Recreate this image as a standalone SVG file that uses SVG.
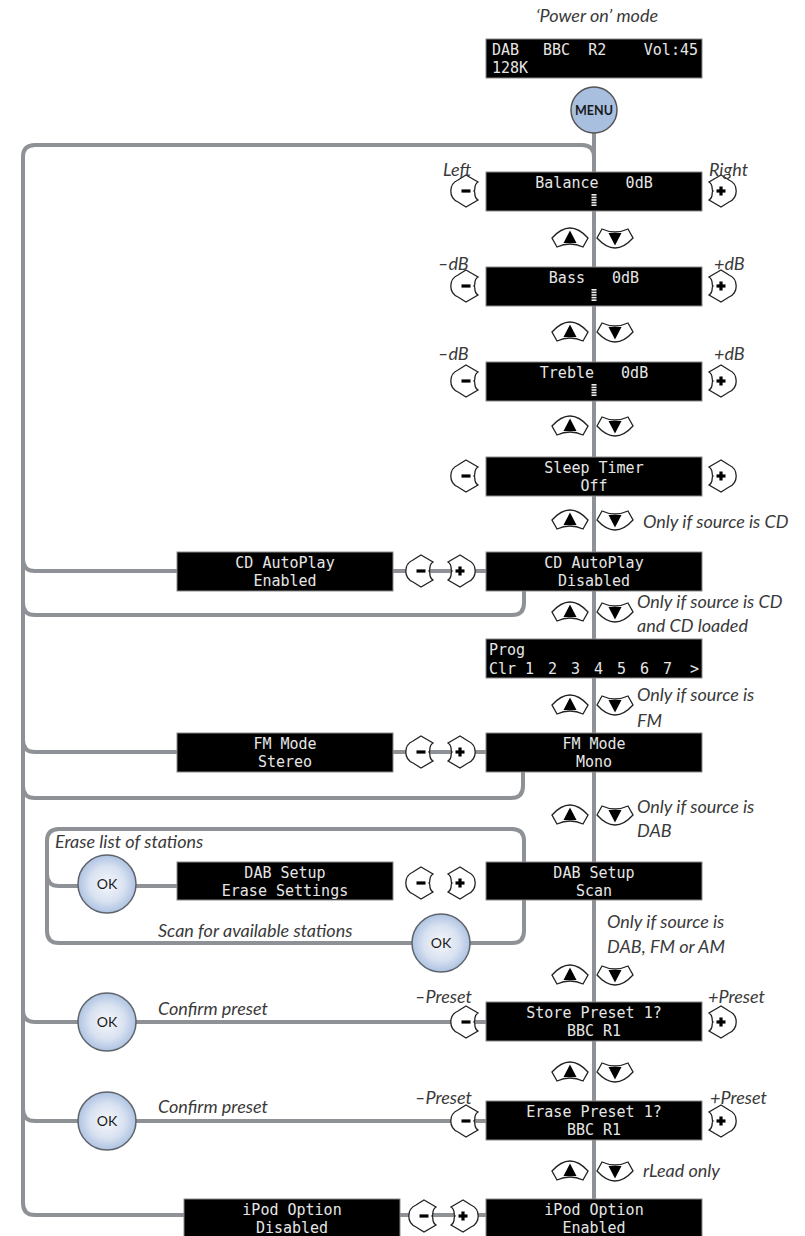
<svg xmlns="http://www.w3.org/2000/svg" width="805" height="1236" viewBox="0 0 805 1236" xml:space="preserve">
<style>
.ln{fill:none;stroke:#8e9196;stroke-width:4}
.lcd{fill:#000;stroke:#8a8a8a;stroke-width:1}
.lt{font-family:"DejaVu Sans Mono","Liberation Mono",monospace;font-size:15px;fill:#e6e6e6;white-space:pre}
.c{text-anchor:middle}
.lab{font-family:Lato,"Open Sans",sans-serif;font-style:italic;font-weight:400;font-size:18px;fill:#3a3a3a}
.btn{fill:#fff;stroke:#222;stroke-width:1.3}
.okc{fill:url(#okg);stroke:#5f646b;stroke-width:1.5}
.okt{font-family:Lato,"Open Sans",sans-serif;font-size:14px;fill:#1a1a1a;text-anchor:middle}
</style>
<defs>
<radialGradient id="okg" cx="0.5" cy="0.5" r="0.5">
<stop offset="0" stop-color="#f5f7fb"/>
<stop offset="0.6" stop-color="#d9e2f1"/>
<stop offset="1" stop-color="#aec3e2"/>
</radialGradient>
<g id="up"><path class="btn" d="M-18,0 Q0,-20 18,0 L13,9 Q0,3 -13,9 Z"/><path d="M0,-7.5 L6.5,5 L-6.5,5 Z" fill="#000"/></g>
<g id="dn"><path class="btn" d="M-18,0 L-13,-9 Q0,-3 13,-9 L18,0 Q0,20 -18,0 Z"/><path d="M0,7.5 L6.5,-5 L-6.5,-5 Z" fill="#000"/></g>
<g id="minus"><path class="btn" d="M0,-16 L12,-9 C7,-6 10,-1 8,0 C10,1 7,6 12,9 L0,16 L-8,11 A12,12 0 0 1 -8,-11 Z"/><rect x="-4.5" y="-1.6" width="9" height="3.2" fill="#000"/></g>
<g id="plus"><path class="btn" d="M0,-16 L-12,-9 C-7,-6 -10,-1 -8,0 C-10,1 -7,6 -12,9 L0,16 L8,11 A12,12 0 0 0 8,-11 Z"/><rect x="-4.5" y="-1.6" width="9" height="3.2" fill="#000"/><rect x="-1.6" y="-4.5" width="3.2" height="9" fill="#000"/></g>
<g id="bar"><rect x="-2.5" y="0" width="5" height="1.6" fill="#eee"/><rect x="-2.5" y="2.6" width="5" height="1.6" fill="#eee"/><rect x="-2.5" y="5.2" width="5" height="1.6" fill="#eee"/><rect x="-2.5" y="7.8" width="5" height="1.6" fill="#eee"/><rect x="-2.5" y="10.4" width="5" height="1.6" fill="#eee"/></g>
</defs>
<rect width="805" height="1236" fill="#fff"/>

<g id="connectors">
<path class="ln" d="M594,133 V1199"/>
<path class="ln" d="M594,157 Q594,145 582,145 H35 Q23,145 23,157 V1203 Q23,1215 35,1215 H184"/>
<path class="ln" d="M23,559 Q23,571 35,571 H177"/>
<path class="ln" d="M393,571 H486"/>
<path class="ln" d="M524,590 V603 Q524,615 512,615 H35 Q23,615 23,603"/>
<path class="ln" d="M23,740 Q23,752 35,752 H177"/>
<path class="ln" d="M393,752 H486"/>
<path class="ln" d="M523,772 V786 Q523,798 511,798 H35 Q23,798 23,786"/>
<path class="ln" d="M59,829 H512 Q524,829 524,841 V931 Q524,943 512,943 H59 Q47,943 47,931 V841 Q47,829 59,829 Z"/>
<path class="ln" d="M47,874 Q47,886 59,886 H177"/>
<path class="ln" d="M23,1010 Q23,1022 35,1022 H486"/>
<path class="ln" d="M23,1109 Q23,1121 35,1121 H486"/>
<path class="ln" d="M400,1215 H486"/>
</g>

<g id="power-on">
<text class="lab c" x="597" y="22">‘Power on’ mode</text>
<rect class="lcd" x="486" y="39" width="216" height="39"/>
<text class="lt" x="492" y="55">DAB</text>
<text class="lt" x="543" y="55">BBC  R2</text>
<text class="lt" x="698" y="55" text-anchor="end">Vol:45</text>
<text class="lt" x="492" y="73">128K</text>
</g>

<g id="menu">
<circle cx="594" cy="110" r="23" fill="#a8bfe0" stroke="#555" stroke-width="1.5"/>
<text x="594" y="115" font-family="Lato,'Open Sans',sans-serif" font-size="12.5" font-weight="bold" fill="#1a1a1a" text-anchor="middle">MENU</text>
</g>

<g id="balance">
<rect class="lcd" x="486" y="172" width="216" height="39"/>
<text class="lt c" x="594" y="188">Balance   0dB</text>
<use href="#bar" x="594" y="194"/>
<use href="#minus" x="466" y="191"/><use href="#plus" x="721" y="191"/>
<text class="lab" x="443" y="176">Left</text>
<text class="lab" x="709" y="176">Right</text>
</g>
<g id="nav1"><use href="#up" x="570" y="238"/><use href="#dn" x="615" y="238"/></g>

<g id="bass">
<rect class="lcd" x="486" y="267" width="216" height="39"/>
<text class="lt c" x="594" y="283">Bass   0dB</text>
<use href="#bar" x="594" y="289"/>
<use href="#minus" x="466" y="286"/><use href="#plus" x="721" y="286"/>
<text class="lab" x="438" y="270">–dB</text>
<text class="lab" x="714" y="270">+dB</text>
</g>
<g id="nav2"><use href="#up" x="570" y="332"/><use href="#dn" x="615" y="332"/></g>

<g id="treble">
<rect class="lcd" x="486" y="362" width="216" height="39"/>
<text class="lt c" x="594" y="378">Treble   0dB</text>
<use href="#bar" x="594" y="384"/>
<use href="#minus" x="466" y="381"/><use href="#plus" x="721" y="381"/>
<text class="lab" x="438" y="360">–dB</text>
<text class="lab" x="714" y="360">+dB</text>
</g>
<g id="nav3"><use href="#up" x="570" y="426"/><use href="#dn" x="615" y="426"/></g>

<g id="sleep">
<rect class="lcd" x="486" y="457" width="216" height="39"/>
<text class="lt c" x="594" y="473">Sleep Timer</text>
<text class="lt c" x="594" y="491">Off</text>
<use href="#minus" x="466" y="476"/><use href="#plus" x="721" y="476"/>
</g>
<g id="nav4"><use href="#up" x="570" y="520"/><use href="#dn" x="615" y="520"/>
<text class="lab" x="643" y="528">Only if source is CD</text></g>

<g id="cd-disabled">
<rect class="lcd" x="486" y="552" width="216" height="39"/>
<text class="lt c" x="594" y="568">CD AutoPlay</text>
<text class="lt c" x="594" y="586">Disabled</text>
</g>
<g id="cd-enabled">
<rect class="lcd" x="177" y="552" width="216" height="39"/>
<text class="lt c" x="285" y="568">CD AutoPlay</text>
<text class="lt c" x="285" y="586">Enabled</text>
<use href="#minus" x="421" y="571"/><use href="#plus" x="460" y="571"/>
</g>
<g id="nav5"><use href="#up" x="570" y="612"/><use href="#dn" x="615" y="612"/>
<text class="lab" x="637" y="608">Only if source is CD</text>
<text class="lab" x="637" y="632">and CD loaded</text></g>

<g id="prog">
<rect class="lcd" x="486" y="639" width="216" height="39"/>
<text class="lt" x="489" y="655">Prog</text>
<text class="lt" y="674"><tspan x="489">Clr</tspan><tspan x="525">1</tspan><tspan x="548">2</tspan><tspan x="571">3</tspan><tspan x="594">4</tspan><tspan x="617">5</tspan><tspan x="640">6</tspan><tspan x="663">7</tspan><tspan x="690">&gt;</tspan></text>
</g>
<g id="nav6"><use href="#up" x="570" y="705"/><use href="#dn" x="615" y="705"/>
<text class="lab" x="637" y="701">Only if source is</text>
<text class="lab" x="637" y="727">FM</text></g>

<g id="fm-mono">
<rect class="lcd" x="486" y="733" width="216" height="39"/>
<text class="lt c" x="594" y="749">FM Mode</text>
<text class="lt c" x="594" y="767">Mono</text>
</g>
<g id="fm-stereo">
<rect class="lcd" x="177" y="733" width="216" height="39"/>
<text class="lt c" x="285" y="749">FM Mode</text>
<text class="lt c" x="285" y="767">Stereo</text>
<use href="#minus" x="421" y="752"/><use href="#plus" x="460" y="752"/>
</g>
<g id="nav7"><use href="#up" x="570" y="815"/><use href="#dn" x="615" y="815"/>
<text class="lab" x="637" y="813">Only if source is</text>
<text class="lab" x="637" y="837">DAB</text></g>

<g id="dab-scan">
<rect class="lcd" x="486" y="862" width="216" height="38"/>
<text class="lt c" x="594" y="878">DAB Setup</text>
<text class="lt c" x="594" y="896">Scan</text>
</g>
<g id="dab-erase">
<rect class="lcd" x="177" y="862" width="216" height="38"/>
<text class="lt c" x="285" y="878">DAB Setup</text>
<text class="lt c" x="285" y="896">Erase Settings</text>
<use href="#minus" x="421" y="883"/><use href="#plus" x="460" y="883"/>
<text class="lab" x="55" y="848">Erase list of stations</text>
<text class="lab" x="158" y="937">Scan for available stations</text>
</g>
<g id="ok-erase"><circle class="okc" cx="107" cy="884" r="29"/><text class="okt" x="107" y="889">OK</text></g>
<g id="ok-scan"><circle class="okc" cx="441" cy="943" r="29"/><text class="okt" x="441" y="948">OK</text></g>
<g id="nav8"><use href="#up" x="570" y="975"/><use href="#dn" x="615" y="975"/>
<text class="lab" x="607" y="928">Only if source is</text>
<text class="lab" x="607" y="953">DAB, FM or AM</text></g>

<g id="store">
<rect class="lcd" x="486" y="1002" width="216" height="39"/>
<text class="lt c" x="594" y="1018">Store Preset 1?</text>
<text class="lt c" x="594" y="1036">BBC R1</text>
<use href="#minus" x="466" y="1022"/><use href="#plus" x="721" y="1022"/>
<text class="lab" x="472" y="1003" text-anchor="end">–Preset</text>
<text class="lab" x="708" y="1003">+Preset</text>
<text class="lab" x="158" y="1015">Confirm preset</text>
</g>
<g id="ok-store"><circle class="okc" cx="107" cy="1022" r="29"/><text class="okt" x="107" y="1027">OK</text></g>
<g id="nav9"><use href="#up" x="570" y="1072"/><use href="#dn" x="615" y="1072"/></g>

<g id="erase">
<rect class="lcd" x="486" y="1101" width="216" height="39"/>
<text class="lt c" x="594" y="1117">Erase Preset 1?</text>
<text class="lt c" x="594" y="1135">BBC R1</text>
<use href="#minus" x="466" y="1121"/><use href="#plus" x="721" y="1121"/>
<text class="lab" x="472" y="1104" text-anchor="end">–Preset</text>
<text class="lab" x="710" y="1104">+Preset</text>
<text class="lab" x="158" y="1113">Confirm preset</text>
</g>
<g id="ok-erasep"><circle class="okc" cx="107" cy="1121" r="29"/><text class="okt" x="107" y="1126">OK</text></g>
<g id="nav10"><use href="#up" x="570" y="1171"/><use href="#dn" x="615" y="1171"/>
<text class="lab" x="643" y="1177">rLead only</text></g>

<g id="ipod-enabled">
<rect class="lcd" x="486" y="1199" width="216" height="39"/>
<text class="lt c" x="594" y="1215">iPod Option</text>
<text class="lt c" x="594" y="1233">Enabled</text>
</g>
<g id="ipod-disabled">
<rect class="lcd" x="184" y="1199" width="216" height="39"/>
<text class="lt c" x="292" y="1215">iPod Option</text>
<text class="lt c" x="292" y="1233">Disabled</text>
<use href="#minus" x="424" y="1216"/><use href="#plus" x="463" y="1216"/>
</g>
</svg>
